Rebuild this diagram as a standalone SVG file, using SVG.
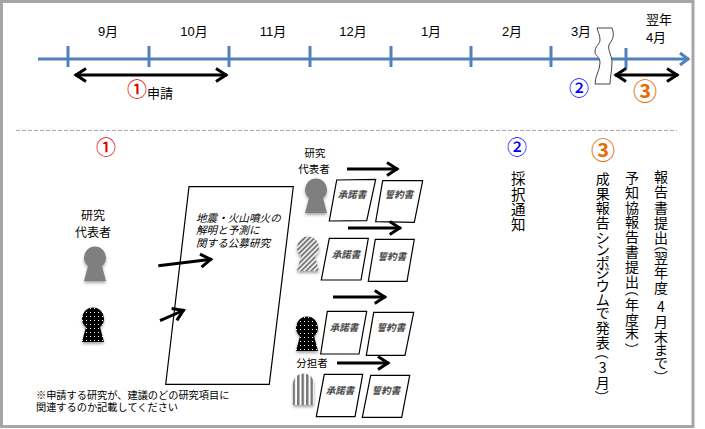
<svg xmlns="http://www.w3.org/2000/svg" width="705" height="429" viewBox="0 0 705 429">
<style>
text{font-family:"Liberation Sans","Noto Sans CJK JP",sans-serif;fill:#000}
.m{font-size:13px;text-anchor:middle}
.c{font-family:"Noto Sans CJK JP",sans-serif;text-anchor:middle}
.v{font-size:14px;font-family:"Noto Sans CJK JP",sans-serif}
.tick{stroke:#4f81bd;stroke-width:3;fill:none}
.doc{fill:#fff;stroke:#000;stroke-width:1.2}
.dt{font-size:9.5px;font-style:italic;font-weight:bold;fill:#444;text-anchor:middle;font-family:"Noto Sans CJK JP",sans-serif}
.arr{stroke:#000;stroke-width:3;fill:none;marker-end:url(#ah)}
.dbl{stroke:#000;stroke-width:3;fill:none;marker-end:url(#ah);marker-start:url(#ahs)}
</style>
<defs>
<marker id="ah" markerUnits="userSpaceOnUse" markerWidth="18" markerHeight="18" refX="14" refY="9" orient="auto"><path d="M3 2.500L13 9L3 15.500" fill="none" stroke="#000" stroke-width="3"/></marker>
<marker id="ahs" markerUnits="userSpaceOnUse" markerWidth="18" markerHeight="18" refX="4" refY="9" orient="auto"><path d="M15 2.500L5 9L15 15.500" fill="none" stroke="#000" stroke-width="3"/></marker>
<marker id="bl" markerUnits="userSpaceOnUse" markerWidth="18" markerHeight="18" refX="13" refY="9" orient="auto"><path d="M4 3L12 9L4 15" fill="none" stroke="#4f81bd" stroke-width="3"/></marker>
<pattern id="dots" width="4" height="4" patternUnits="userSpaceOnUse"><rect width="4" height="4" fill="#000"/><rect x="1" y="1" width="1" height="1" fill="#fff"/></pattern>
<pattern id="hatch" width="3.500" height="3.500" patternUnits="userSpaceOnUse" patternTransform="rotate(45)"><rect width="3.500" height="3.500" fill="#fff"/><rect width="2" height="3.500" fill="#777"/></pattern>
<pattern id="stripes" width="4.500" height="4" patternUnits="userSpaceOnUse"><rect width="4.500" height="4" fill="#fff"/><rect width="2.500" height="4" fill="#777"/></pattern>
<filter id="sh" x="-30%" y="-20%" width="160%" height="150%"><feDropShadow dx="0" dy="2" stdDeviation="1.500" flood-color="#000" flood-opacity=".35"/></filter>
<path id="key" d="M-7 8A11 11 0 1 1 7 8L11 23H-11Z"/>
</defs>
<rect x="1.500" y="1.500" width="691.500" height="425" fill="#fff" stroke="#a6a6a6" stroke-width="3"/>
<g id="timeline-labels">
<text class="m" x="108" y="36">9月</text>
<text class="m" x="194" y="36">10月</text>
<text class="m" x="273" y="36">11月</text>
<text class="m" x="353" y="36">12月</text>
<text class="m" x="431" y="36">1月</text>
<text class="m" x="512" y="36">2月</text>
<text class="m" x="581" y="36">3月</text>
<text class="m" x="659" y="24">翌年</text>
<text class="m" x="656" y="42">4月</text>
<text class="c" x="137" y="97" font-size="20" font-weight="500" style="fill:#e00000">①</text>
<text x="147" y="98" font-size="13">申請</text>
<text class="c" x="579" y="96" font-size="20" font-weight="500" style="fill:#0000ff">②</text>
<text class="c" x="645" y="100" font-size="24" font-weight="bold" style="fill:#e46c0a">③</text>
</g>
<g id="section-1-head"><text class="c" x="106" y="155" font-size="20" font-weight="500" style="fill:#e00000">①</text></g>
<g id="rep-1">
<text class="m" x="93" y="220" style="font-size:12px">研究</text><text class="m" x="93" y="237" style="font-size:12px">代表者</text>
<use href="#key" x="95" y="258" fill="#7f7f7f" filter="url(#sh)"/>
</g>
<g id="member-1"><use href="#key" x="93" y="319" fill="url(#dots)" filter="url(#sh)"/></g>
<g id="main-doc">
<path d="M189 186.700H293.300L269.300 384.300H165.700Z" fill="#fff" stroke="#000" stroke-width="1.200"/>
<text x="196" y="222" font-size="10.600" font-style="italic">地震・火山噴火の</text>
<text x="196" y="234" font-size="10.600" font-style="italic">解明と予測に</text>
<text x="196" y="247" font-size="10.600" font-style="italic">関する公募研究</text>
</g>
<g id="note">
<text x="36" y="399" font-size="10.200">※申請する研究が、建議のどの研究項目に</text>
<text x="36" y="411" font-size="10.200">関連するのか記載してください</text>
</g>
<g id="person-rep">
<text class="m" x="315" y="157" style="font-size:10.500px">研究</text>
<text class="m" x="314" y="173" style="font-size:10.500px">代表者</text>
<use href="#key" x="316" y="190" fill="#7f7f7f" filter="url(#sh)"/>
</g>
<g id="person-hatch"><use href="#key" x="308" y="248" fill="url(#hatch)" filter="url(#sh)"/></g>
<g id="person-dots"><use href="#key" x="307" y="328" fill="url(#dots)" filter="url(#sh)"/></g>
<g id="person-stripes">
<text class="m" x="312" y="367" style="font-size:10.500px">分担者</text>
<path d="M293 384A10.500 10.500 0 0 1 314 384V405H293Z" fill="url(#stripes)" filter="url(#sh)"/>
</g>
<g id="doc-a1"><path class="doc" d="M336.700 180L375.700 179.300L366.700 220.700L329.300 221Z"/><text class="dt" x="352" y="198">承諾書</text></g>
<g id="doc-a2"><path class="doc" d="M382.700 180.700H422.700L414.300 222.300L375.700 221.700Z"/><text class="dt" x="399" y="198">誓約書</text></g>
<g id="doc-b1"><path class="doc" d="M329.300 238.300H368.300L361 280H321.300Z"/><text class="dt" x="346" y="258">承諾書</text></g>
<g id="doc-b2"><path class="doc" d="M375.300 239.300H414.300L407 281.300H368.300Z"/><text class="dt" x="392" y="260">誓約書</text></g>
<g id="doc-c1"><path class="doc" d="M327.300 311.300H366.700L359 354H320.700Z"/><text class="dt" x="344" y="331">承諾書</text></g>
<g id="doc-c2"><path class="doc" d="M373.700 312.300H413.700L405 355.300H366.300Z"/><text class="dt" x="391" y="331">誓約書</text></g>
<g id="doc-d1"><path class="doc" d="M324.300 374.300H362.700L355 416.700H316.300Z"/><text class="dt" x="340" y="394">承諾書</text></g>
<g id="doc-d2"><path class="doc" d="M370.700 375.300H409.700L401.700 417.300H362.300Z"/><text class="dt" x="386" y="394">誓約書</text></g>
<g id="section-2">
<text class="c" x="517" y="155" font-size="20" font-weight="500" style="fill:#0000ff">②</text>
<text class="v" x="511 511 511 511" y="183.500 199.500 214.500 229.500" style="font-size:14.500px">採択通知</text>
</g>
<g id="section-3">
<text class="c" x="603" y="159" font-size="24" font-weight="bold" style="fill:#e46c0a">③</text>
<text class="v" x="595.700 595.700 595.700 595.700 595.700 595.700 595.700 595.700 595.700 595.700 595.700 595.700 595.700 597.400 598.800 595.700 597.400" y="183.600 198.600 213.300 228.300 243.300 255.300 268.300 278.300 291.300 305.300 318.300 333.300 348.300 345.500 373 388.300 390" rotate="0 0 0 0 0 0 0 0 0 0 0 0 0 90 0 0 90">成果報告シンポジウムで発表（3月）</text>
<text class="v" x="625 625 625 625 625 625 625 625 626.700 625 625 625 626.700" y="183.300 198.300 213.300 227.300 242.300 257.300 272.300 287.300 282.500 310.300 325.300 338.300 342.500" rotate="0 0 0 0 0 0 0 0 90 0 0 0 90">予知協報告書提出（年度末）</text>
<text class="v" x="654 654 654 654 654 655.700 654 654 654 657.100 654 654 654 654 655.700" y="182.300 197.300 213.300 228.300 243.300 237.500 263.300 278.300 293.300 312 327.300 342.300 355.300 368.300 370" rotate="0 0 0 0 0 90 0 0 0 0 0 0 0 0 90">報告書提出（翌年度4月末まで）</text>
</g>
<g id="connectors">
<path d="M38 59H689" stroke="#4f81bd" stroke-width="3" fill="none" marker-end="url(#bl)"/>
<path class="tick" d="M68 46V67M149 46V67M229 46V67M310 46V67M391 46V67M471 46V67M551 46V67M626 48V69"/>
<path class="dbl" d="M75 75H227"/>
<path class="dbl" d="M615 75H678"/>
<path d="M16 130.500H677" stroke="#aaa" stroke-width="1" stroke-dasharray="4 2" fill="none"/>
<path class="arr" d="M158.300 265.700L211.700 259.300"/>
<path class="arr" d="M160 320.700L184.300 310"/>
<path class="arr" d="M347 169H398"/>
<path class="arr" d="M348 228H400.700"/>
<path class="arr" d="M333 297H385.700"/>
<path class="arr" d="M337 363H389"/>
</g>
<g id="break-mark"><path d="M597 28H612C614 33 614 38 610 43C606 48 612 55 612 62C612 70 610 78 610 84H595C595 76 600 70 600 63C600 56 595 56 595 52C595 46 600 44 600 40C600 35 598 32 597 28Z" fill="#fff" stroke="#444" stroke-width="1"/></g>
</svg>
